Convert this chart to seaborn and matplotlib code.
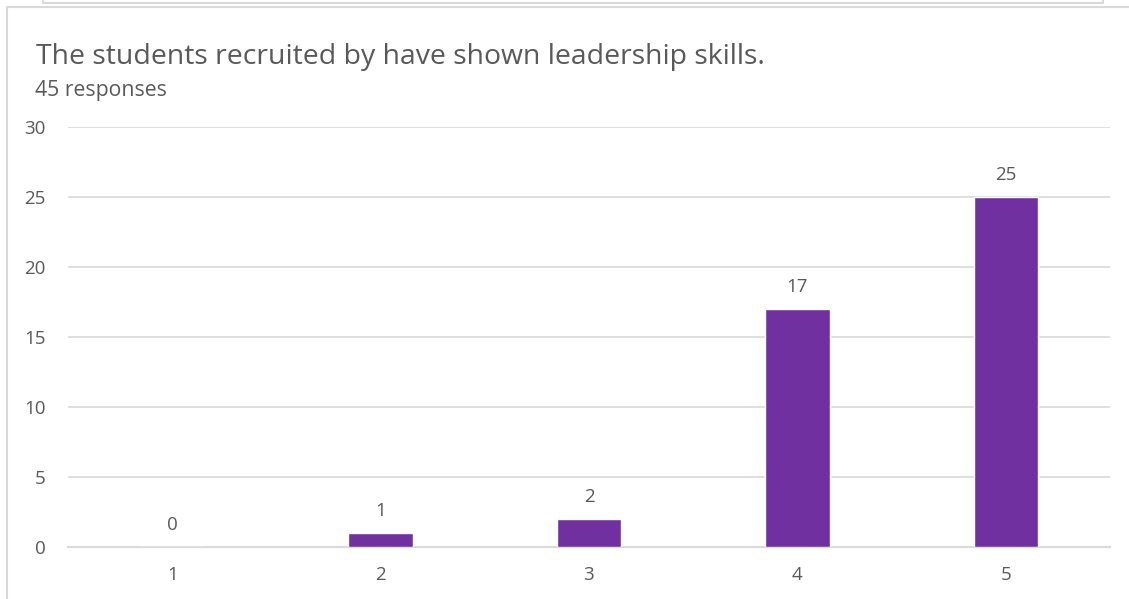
import matplotlib
matplotlib.use("Agg")
import matplotlib.pyplot as plt
import seaborn as sns
import pandas as pd
from matplotlib.lines import Line2D

ratings = ["1", "2", "3", "4", "5"]
counts = [0, 1, 2, 17, 25]
title = "The students recruited by have shown leadership skills."
subtitle = "45 responses"

sns.set_theme(style="white")
plt.rcParams['font.family'] = ['Open Sans', 'DejaVu Sans']

df = pd.DataFrame({"rating": ratings, "count": counts})
txt = "#595959"
grid = "#d9d9d9"

fig = plt.figure(figsize=(11.29, 5.99), dpi=100)
ax = fig.add_axes([0.0602, 0.0868, 0.9230, 0.7012])
sns.barplot(data=df, x="rating", y="count", color="#7030A0", width=0.31,
            saturation=1, ax=ax, zorder=3)

ax.set_xlim(-0.5, 4.5)
ax.set_ylim(0, 30)
ax.set_yticks(range(0, 31, 5))
ax.yaxis.grid(True, color=grid, linewidth=1.2, zorder=0)
ax.set_axisbelow(True)
for s in ["top", "right", "left"]:
    ax.spines[s].set_visible(False)
ax.spines["bottom"].set_color(grid)
ax.spines["bottom"].set_linewidth(1.5)
ax.tick_params(axis="both", length=0, labelsize=13.5, labelcolor=txt)
ax.tick_params(axis="x", pad=13.5)
ax.tick_params(axis="y", pad=16)
ax.set_xlabel("")
ax.set_ylabel("")

for i, c in enumerate(counts):
    ax.annotate(str(c), (i, c), xytext=(0, 12.5), textcoords="offset points",
                ha="center", va="baseline", fontsize=13.5, color=txt)

fig.text(36 / 1129, 1 - 64 / 599, title, fontsize=20.4, color=txt, va="baseline")
fig.text(35 / 1129, 1 - 96 / 599, subtitle, fontsize=15.3, color=txt, va="baseline")

# surrounding frame lines
W, H = 1129, 599
def fl(xs, ys):
    fig.add_artist(Line2D([x / W for x in xs], [1 - y / H for y in ys],
                          color=grid, linewidth=1.5, transform=fig.transFigure))
fl([43, 43, 1103, 1103], [0, 3, 3, 0])
fl([7, 7, W], [H, 7, 7])

fig.savefig("out.png", dpi=100)
